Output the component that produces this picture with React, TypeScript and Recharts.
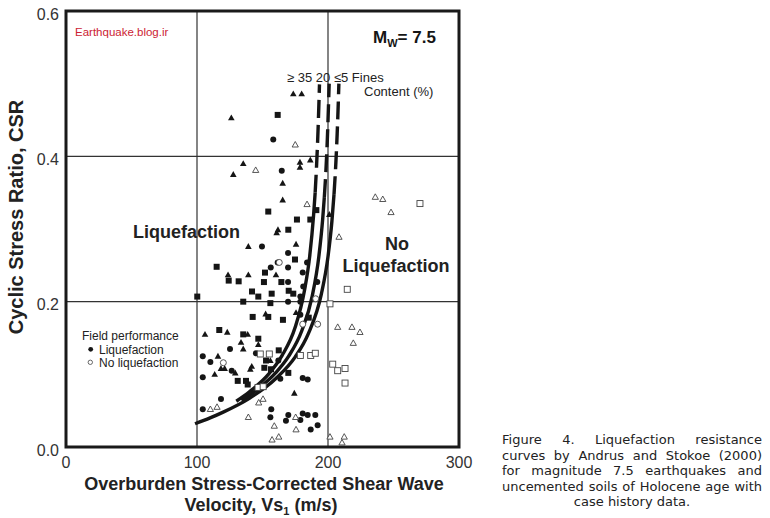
import React from "react";
import {
  ComposedChart,
  XAxis,
  YAxis,
  CartesianGrid,
  Scatter,
  Line,
  ReferenceArea,
} from "recharts";

type Pair = [number, number];

// Vs1 (m/s), CSR
const liqTriangle: Pair[] = [
  [135.3, 0.39], [127.7, 0.375], [178.6, 0.392], [178.6, 0.385], [186.5, 0.395],
  [165.4, 0.363], [165.4, 0.34], [161.8, 0.299], [160.8, 0.295], [139.2, 0.276],
  [175.6, 0.279], [123.7, 0.237], [139.2, 0.237], [160.3, 0.237], [126.2, 0.453],
  [173.5, 0.486], [179.9, 0.486], [152.4, 0.183], [175.6, 0.185], [106.1, 0.155],
  [123.1, 0.158], [138.7, 0.155], [133.6, 0.144], [146.8, 0.141], [135.3, 0.135],
  [116.0, 0.125], [118.3, 0.108], [121.1, 0.108], [129.2, 0.102], [141.8, 0.111],
  [140.7, 0.107], [156.0, 0.119], [113.5, 0.1], [174.3, 0.074], [201.0, 0.32],
];

const liqSquare: Pair[] = [
  [154.4, 0.324], [176.3, 0.313], [186.5, 0.313], [169.7, 0.299], [174.8, 0.258],
  [115.0, 0.248], [151.9, 0.24], [124.2, 0.229], [131.8, 0.228], [151.1, 0.227],
  [164.4, 0.227], [142.0, 0.214], [146.8, 0.207], [157.0, 0.211], [170.0, 0.215],
  [173.5, 0.211], [100.2, 0.207], [135.3, 0.2], [156.0, 0.198], [161.6, 0.457],
  [142.5, 0.179], [154.4, 0.179], [165.6, 0.175], [185.3, 0.178], [117.0, 0.161],
  [135.3, 0.155], [146.8, 0.149], [162.4, 0.133], [152.7, 0.119], [156.5, 0.107],
  [151.4, 0.109], [131.1, 0.091], [137.4, 0.091], [138.7, 0.086], [169.7, 0.102],
  [191.1, 0.326],
];

const liqCircle: Pair[] = [
  [164.7, 0.38], [149.6, 0.276], [169.5, 0.267], [161.6, 0.254], [156.3, 0.247],
  [169.5, 0.247], [184.0, 0.254], [180.7, 0.24], [169.5, 0.227], [191.8, 0.227],
  [181.1, 0.221], [178.9, 0.207], [169.5, 0.2], [178.9, 0.2], [158.2, 0.423],
  [178.9, 0.182], [125.2, 0.135], [104.4, 0.125], [145.0, 0.129], [110.2, 0.117],
  [126.5, 0.105], [162.1, 0.119], [104.4, 0.096], [163.6, 0.094], [180.7, 0.095],
  [184.5, 0.093], [118.3, 0.066], [104.4, 0.052], [156.7, 0.052], [156.0, 0.041],
  [169.7, 0.044], [180.7, 0.046], [184.5, 0.044], [190.3, 0.044], [167.9, 0.036],
  [178.9, 0.037], [192.1, 0.03], [186.8, 0.024],
];

const noLiqTriangle: Pair[] = [
  [144.8, 0.381], [184.0, 0.334], [208.4, 0.289], [175.0, 0.416], [207.4, 0.165],
  [150.4, 0.066], [147.1, 0.061], [110.2, 0.052], [115.3, 0.055], [139.2, 0.041],
  [175.3, 0.041], [159.0, 0.029], [175.6, 0.024], [162.4, 0.014], [157.3, 0.01],
  [201.5, 0.014], [236.1, 0.344], [241.8, 0.341], [248.1, 0.323], [218.3, 0.165],
  [224.4, 0.158], [219.3, 0.143], [212.4, 0.014], [210.7, 0.006],
];

const noLiqSquare: Pair[] = [
  [201.5, 0.197], [148.3, 0.128], [155.2, 0.128], [178.9, 0.126], [186.8, 0.126],
  [190.3, 0.129], [203.6, 0.114], [207.4, 0.105], [213.0, 0.108], [213.0, 0.088],
  [214.7, 0.217], [270.2, 0.335], [146.6, 0.082], [150.5, 0.083],
];

const noLiqCircle: Pair[] = [
  [162.8, 0.254], [190.6, 0.204], [180.7, 0.169], [192.1, 0.169], [120.1, 0.116],
];

// resistance curves, solid part and dashed (extrapolated) part
const fines35Solid: Pair[] = [
  [130, 0.063], [140, 0.076], [155, 0.101], [165, 0.126], [175, 0.165],
  [182, 0.215], [186, 0.262], [189, 0.319], [190.2, 0.35],
];
const fines35Dashed: Pair[] = [[190.2, 0.35], [191, 0.377], [192.5, 0.441], [193.5, 0.499]];

const fines20Solid: Pair[] = [
  [134, 0.064], [145, 0.078], [160, 0.102], [170, 0.125], [180, 0.16],
  [188, 0.208], [193, 0.262], [196, 0.315], [197.2, 0.344],
];
const fines20Dashed: Pair[] = [[197.2, 0.344], [198, 0.367], [199.5, 0.424], [200.9, 0.5]];

const fines5Solid: Pair[] = [
  [98.5, 0.032], [110, 0.04], [120, 0.048], [140, 0.067], [160, 0.094],
  [175, 0.124], [185, 0.156], [195, 0.211], [200, 0.262], [203, 0.311], [204.6, 0.348],
];
const fines5Dashed: Pair[] = [[204.6, 0.348], [206, 0.391], [207, 0.431], [208, 0.482], [208.3, 0.5]];

const xTicks = [0, 100, 200, 300];
const yTicks = [0, 0.2, 0.4, 0.6];

const captionLines = [
  "Figure 4. Liquefaction resistance",
  "curves by Andrus and Stokoe (2000)",
  "for magnitude 7.5 earthquakes and",
  "uncemented soils of Holocene age with",
];
const captionLast = "case history data.";

const toPts = (arr: Pair[]) => arr.map(([x, y]) => ({ x, y }));

const INK = "#151515";
const FONT = "'Liberation Sans', Arial, sans-serif";

const filledTri = (p: any) => (
  <path
    d={`M${p.cx},${p.cy - 3.4}L${p.cx + 3.3},${p.cy + 2.5}L${p.cx - 3.3},${p.cy + 2.5}Z`}
    fill={INK}
  />
);
const filledSq = (p: any) => (
  <rect x={p.cx - 3} y={p.cy - 3} width={6} height={6} fill={INK} />
);
const filledCirc = (p: any) => <circle cx={p.cx} cy={p.cy} r={3} fill={INK} />;
const openTri = (p: any) => (
  <path
    d={`M${p.cx},${p.cy - 3.2}L${p.cx + 3.1},${p.cy + 2.3}L${p.cx - 3.1},${p.cy + 2.3}Z`}
    fill="#fff"
    stroke="#444"
    strokeWidth={0.9}
  />
);
const openSq = (p: any) => (
  <rect x={p.cx - 3} y={p.cy - 3} width={6} height={6} fill="#fff" stroke="#444" strokeWidth={0.9} />
);
const openCirc = (p: any) => (
  <circle cx={p.cx} cy={p.cy} r={3} fill="#fff" stroke="#444" strokeWidth={0.9} />
);

const curves = [
  { key: "f35s", data: fines35Solid, dash: undefined },
  { key: "f35d", data: fines35Dashed, dash: "18 7" },
  { key: "f20s", data: fines20Solid, dash: undefined },
  { key: "f20d", data: fines20Dashed, dash: "18 7" },
  { key: "f5s", data: fines5Solid, dash: undefined },
  { key: "f5d", data: fines5Dashed, dash: "18 7" },
];

export default function App() {
  return (
    <div
      style={{
        position: "absolute",
        left: 0,
        top: 0,
        width: 770,
        height: 518,
        background: "#fff",
        overflow: "hidden",
      }}
    >
      <ComposedChart
        width={770}
        height={518}
        margin={{ top: 11, right: 311, left: 6, bottom: 0 }}
      >
        <CartesianGrid stroke="#333" strokeWidth={1.2} />
        <XAxis
          type="number"
          dataKey="x"
          domain={[0, 300]}
          ticks={xTicks}
          allowDataOverflow
          axisLine={false}
          tickLine={false}
          tickSize={0}
          tickMargin={10}
          height={71}
          tick={{ fontSize: 16, fill: "#333", fontFamily: FONT }}
        />
        <YAxis
          type="number"
          dataKey="y"
          domain={[0, 0.6]}
          ticks={yTicks}
          allowDataOverflow
          axisLine={false}
          tickLine={false}
          tickSize={0}
          tickMargin={7}
          width={60}
          tickFormatter={(v: number) => v.toFixed(1)}
          tick={{ fontSize: 16, fill: "#333", fontFamily: FONT, dy: 3 }}
        />
        <Scatter data={toPts(liqTriangle)} shape={filledTri} isAnimationActive={false} />
        <Scatter data={toPts(liqSquare)} shape={filledSq} isAnimationActive={false} />
        <Scatter data={toPts(liqCircle)} shape={filledCirc} isAnimationActive={false} />
        <Scatter data={toPts(noLiqTriangle)} shape={openTri} isAnimationActive={false} />
        <Scatter data={toPts(noLiqSquare)} shape={openSq} isAnimationActive={false} />
        <Scatter data={toPts(noLiqCircle)} shape={openCirc} isAnimationActive={false} />
        {curves.map((c) => (
          <Line
            key={c.key}
            data={toPts(c.data)}
            dataKey="y"
            type="monotone"
            stroke={INK}
            strokeWidth={3.4}
            strokeDasharray={c.dash}
            dot={false}
            activeDot={false}
            isAnimationActive={false}
          />
        ))}
        <ReferenceArea
          x1={0}
          x2={300}
          y1={0}
          y2={0.6}
          fill="none"
          fillOpacity={0}
          stroke="#1a1a1a"
          strokeWidth={3}
        />
      </ComposedChart>

      <svg
        width={770}
        height={518}
        style={{ position: "absolute", left: 0, top: 0, pointerEvents: "none" }}
        fontFamily={FONT}
      >
        <text x={75} y={36} fontSize={11.5} fill="#cc2233">
          Earthquake.blog.ir
        </text>
        <text x={373} y={43} fontSize={17} fontWeight="bold" fill={INK}>
          M
          <tspan fontSize={11} dy={4}>W</tspan>
          <tspan dy={-4}>= 7.5</tspan>
        </text>
        <text x={287} y={81.5} fontSize={13} fill="#222">
          {"\u2265 35 20 \u22645 Fines"}
        </text>
        <text x={364} y={96} fontSize={13} fill="#222">
          Content (%)
        </text>
        <text x={133} y={238} fontSize={18} fontWeight="bold" fill="#222">
          Liquefaction
        </text>
        <text x={397} y={250} fontSize={18} fontWeight="bold" fill="#222" textAnchor="middle">
          No
        </text>
        <text x={396} y={272} fontSize={18} fontWeight="bold" fill="#222" textAnchor="middle">
          Liquefaction
        </text>
        <text x={82} y={340} fontSize={12} fill="#222">
          Field performance
        </text>
        <circle cx={90.7} cy={349.3} r={2.4} fill={INK} />
        <text x={99} y={353.5} fontSize={12} fill="#222">
          Liquefaction
        </text>
        <circle cx={90.3} cy={362.3} r={2.2} fill="#fff" stroke="#444" strokeWidth={0.8} />
        <text x={99} y={366.5} fontSize={12} fill="#222">
          No liquefaction
        </text>
        <text x={264} y={490} fontSize={18} fontWeight="bold" fill="#222" textAnchor="middle">
          Overburden Stress-Corrected Shear Wave
        </text>
        <text x={261} y={511} fontSize={18} fontWeight="bold" fill="#222" textAnchor="middle">
          Velocity, Vs
          <tspan fontSize={11} dy={4}>1</tspan>
          <tspan dy={-4}> (m/s)</tspan>
        </text>
        <text
          x={23}
          y={217}
          fontSize={20}
          fontWeight="bold"
          fill="#222"
          textAnchor="middle"
          transform="rotate(-90 23 217)"
        >
          Cyclic Stress Ratio, CSR
        </text>
      </svg>

      <div
        style={{
          position: "absolute",
          left: 502,
          top: 432,
          width: 260,
          fontFamily: "'DejaVu Sans', Verdana, sans-serif",
          fontSize: 13,
          lineHeight: "15.6px",
          color: "#222",
        }}
      >
        {captionLines.map((l) => (
          <div key={l} style={{ textAlign: "justify", textAlignLast: "justify", whiteSpace: "nowrap" }}>
            {l}
          </div>
        ))}
        <div style={{ textAlign: "center" }}>{captionLast}</div>
      </div>
    </div>
  );
}
